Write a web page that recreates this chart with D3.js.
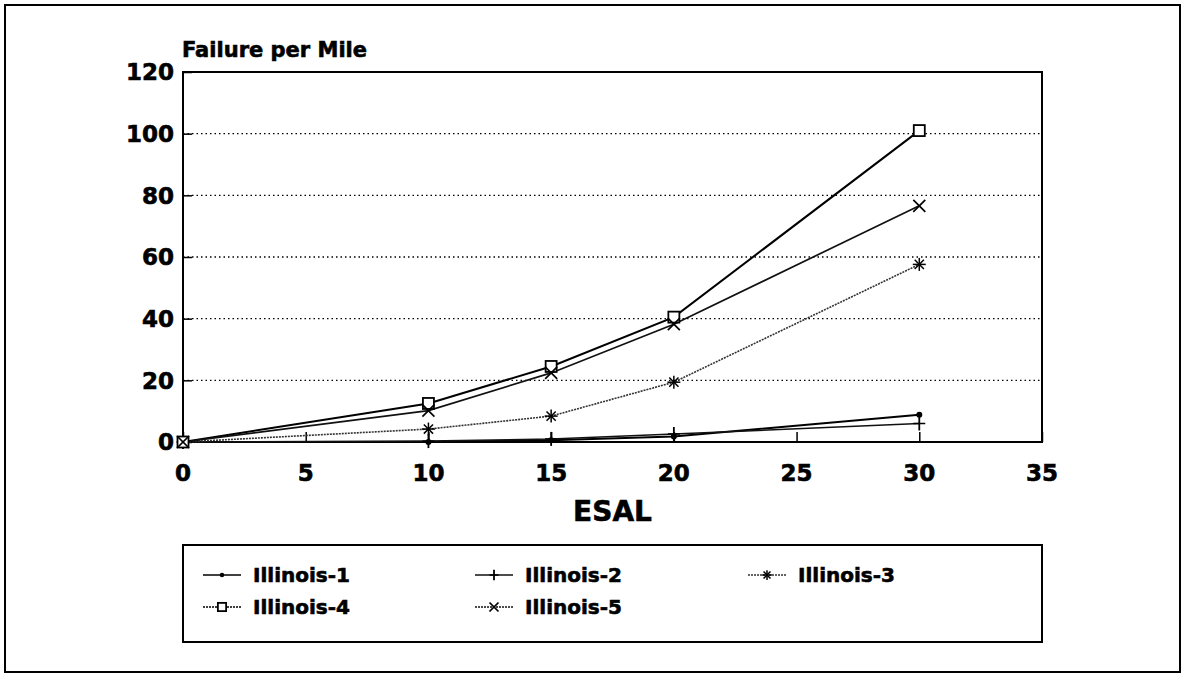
<!DOCTYPE html>
<html>
<head>
<meta charset="utf-8">
<script src="https://cdn.jsdelivr.net/npm/d3@7"></script>
<style>
  html, body { margin: 0; padding: 0; background: #fff; }
  svg text { font-family: "DejaVu Sans", sans-serif; font-weight: bold; fill: #000; stroke: #000; stroke-width: 0.6px; }
</style>
</head>
<body>
<svg id="chart" width="1182" height="675"></svg>
<script>
// ESAL values (x) and failures per mile for each pavement design
const esal = [0, 10, 15, 20, 30];
const illinois1 = [0, 0, 0.6, 1.8, 8.8];
const illinois2 = [0, 0.3, 1.0, 2.6, 6.0];
const illinois3 = [0, 4.2, 8.4, 19.4, 57.6];
const illinois4 = [0, 12.5, 24.5, 40.5, 101];
const illinois5 = [0, 10.2, 22.4, 38.2, 76.6];
const seriesNames = ["Illinois-1", "Illinois-2", "Illinois-3", "Illinois-4", "Illinois-5"];
const xTicks = [0, 5, 10, 15, 20, 25, 30, 35];
const yTicks = [0, 20, 40, 60, 80, 100, 120];

const series = [
  { name: seriesNames[0], values: illinois1, marker: "dot",    width: 2,   dash: null,  legendDash: null,  color: "#000" },
  { name: seriesNames[1], values: illinois2, marker: "plus",   width: 1.5, dash: null,  legendDash: null,  color: "#111" },
  { name: seriesNames[2], values: illinois3, marker: "star",   width: 1.6, dash: "2,1", legendDash: "2,1", color: "#333" },
  { name: seriesNames[3], values: illinois4, marker: "square", width: 2,   dash: null,  legendDash: "2,1", color: "#000" },
  { name: seriesNames[4], values: illinois5, marker: "cross",  width: 1.7, dash: null,  legendDash: "2,1", color: "#111" }
];

const svg = d3.select("#chart");
const plotLeft = 183, plotRight = 1042, plotTop = 72, plotBottom = 442;

const x = d3.scaleLinear().domain([0, 35]).range([plotLeft, plotRight]);
const y = d3.scaleLinear().domain([0, 120]).range([plotBottom, plotTop]);

// outer frame
svg.append("rect").attr("x", 5).attr("y", 5).attr("width", 1175).attr("height", 667)
  .attr("fill", "none").attr("stroke", "#000").attr("stroke-width", 2);

// dotted horizontal grid
svg.append("g").selectAll("line").data(yTicks.filter(d => d > 0 && d < 120)).join("line")
  .attr("x1", plotLeft).attr("x2", plotRight)
  .attr("y1", d => y(d)).attr("y2", d => y(d))
  .attr("stroke", "#000").attr("stroke-width", 1.3).attr("stroke-dasharray", "1.5,3");

// y axis (ticks point inward)
const yAxis = svg.append("g").attr("transform", `translate(${plotLeft},0)`)
  .call(d3.axisRight(y).tickValues(yTicks).tickSize(9).tickFormat(""));
yAxis.select(".domain").remove();
yAxis.selectAll("line").attr("stroke", "#000").attr("stroke-width", 1.5);
svg.append("g").selectAll("text").data(yTicks).join("text")
  .attr("x", plotLeft - 9).attr("y", d => y(d)).attr("dy", "0.36em")
  .attr("text-anchor", "end").attr("font-size", 23).text(d => d);

// x axis (ticks point inward)
const xAxis = svg.append("g").attr("transform", `translate(0,${plotBottom})`)
  .call(d3.axisTop(x).tickValues(xTicks).tickSize(10).tickFormat(""));
xAxis.select(".domain").remove();
xAxis.selectAll("line").attr("stroke", "#000").attr("stroke-width", 1.5);
svg.append("g").selectAll("text").data(xTicks).join("text")
  .attr("x", d => x(d)).attr("y", plotBottom + 39)
  .attr("text-anchor", "middle").attr("font-size", 23).text(d => d);

// plot frame
svg.append("rect").attr("x", plotLeft).attr("y", plotTop)
  .attr("width", plotRight - plotLeft).attr("height", plotBottom - plotTop)
  .attr("fill", "none").attr("stroke", "#000").attr("stroke-width", 2);

// titles
svg.append("text").attr("x", plotLeft - 1).attr("y", 57).attr("font-size", 21).text("Failure per Mile");
svg.append("text").attr("x", (plotLeft + plotRight) / 2).attr("y", 521).attr("text-anchor", "middle")
  .attr("font-size", 28).text("ESAL");

// marker drawing
function drawMarker(g, type, cx, cy, s) {
  const k = s || 1;
  if (type === "dot") {
    g.append("circle").attr("cx", cx).attr("cy", cy).attr("r", 3 * k).attr("fill", "#000");
  } else if (type === "plus") {
    g.append("line").attr("x1", cx).attr("x2", cx).attr("y1", cy - 7 * k).attr("y2", cy + 7 * k)
      .attr("stroke", "#000").attr("stroke-width", 1.8);
    g.append("line").attr("x1", cx - 6 * k).attr("x2", cx + 6 * k).attr("y1", cy).attr("y2", cy)
      .attr("stroke", "#000").attr("stroke-width", 1.5);
  } else if (type === "star") {
    const r = 6.5 * k;
    for (let i = 0; i < 4; i++) {
      const a = i * Math.PI / 4;
      g.append("line")
        .attr("x1", cx - r * Math.cos(a)).attr("y1", cy - r * Math.sin(a))
        .attr("x2", cx + r * Math.cos(a)).attr("y2", cy + r * Math.sin(a))
        .attr("stroke", "#000").attr("stroke-width", 1.5);
    }
  } else if (type === "square") {
    const h = 5.5 * k;
    g.append("rect").attr("x", cx - h).attr("y", cy - h).attr("width", 2 * h).attr("height", 2 * h)
      .attr("fill", "#fff").attr("stroke", "#000").attr("stroke-width", 1.8);
  } else if (type === "cross") {
    const h = 6 * k;
    g.append("line").attr("x1", cx - h).attr("y1", cy - h).attr("x2", cx + h).attr("y2", cy + h)
      .attr("stroke", "#000").attr("stroke-width", 1.7);
    g.append("line").attr("x1", cx - h).attr("y1", cy + h).attr("x2", cx + h).attr("y2", cy - h)
      .attr("stroke", "#000").attr("stroke-width", 1.7);
  }
}

// series lines and markers
const line = d3.line().x(d => x(d[0])).y(d => y(d[1]));
const plot = svg.append("g");
series.forEach(s => {
  const pts = esal.map((e, i) => [e, s.values[i]]);
  plot.append("path").attr("d", line(pts)).attr("fill", "none")
    .attr("stroke", s.color).attr("stroke-width", s.width)
    .attr("stroke-dasharray", s.dash);
});
series.forEach(s => {
  const g = plot.append("g");
  esal.forEach((e, i) => drawMarker(g, s.marker, x(e), y(s.values[i])));
});

// legend
const legTop = 545, legBottom = 642;
svg.append("rect").attr("x", plotLeft).attr("y", legTop)
  .attr("width", plotRight - plotLeft).attr("height", legBottom - legTop)
  .attr("fill", "none").attr("stroke", "#000").attr("stroke-width", 2);
const colX = [203, 475, 748];
const rowY = [575, 607];
series.forEach((s, i) => {
  const cx = colX[i % 3], cy = rowY[Math.floor(i / 3)];
  const g = svg.append("g");
  g.append("line").attr("x1", cx).attr("x2", cx + 38).attr("y1", cy).attr("y2", cy)
    .attr("stroke", s.color).attr("stroke-width", 1.5).attr("stroke-dasharray", s.legendDash);
  drawMarker(g, s.marker, cx + 19, cy, 0.75);
  g.append("text").attr("x", cx + 50).attr("y", cy).attr("dy", "0.36em")
    .attr("font-size", 20).text(s.name);
});
</script>
</body>
</html>
